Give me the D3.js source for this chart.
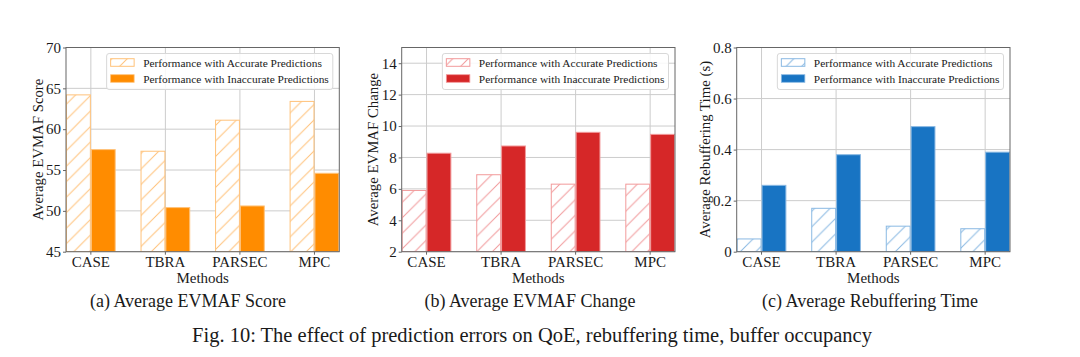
<!DOCTYPE html>
<html>
<head>
<meta charset="utf-8">
<script src="https://cdn.jsdelivr.net/npm/d3@7"></script>
<style>
  html, body { margin: 0; padding: 0; background: #fff; }
  svg { display: block; }
  text { font-family: "Liberation Serif", "Times New Roman", serif; fill: #1a1a1a; }
</style>
</head>
<body>
<svg id="chart" width="1080" height="357"></svg>
<script>
// ---- Data ----
const categories = ["CASE", "TBRA", "PARSEC", "MPC"];
const seriesNames = ["Performance with Accurate Predictions", "Performance with Inaccurate Predictions"];

const evmafAccurate   = [64.2, 57.3, 61.1, 63.4];
const evmafInaccurate = [57.5, 50.4, 50.6, 54.6];
const evmafTicks      = [45, 50, 55, 60, 65, 70];

const changeAccurate   = [5.9, 6.9, 6.3, 6.3];
const changeInaccurate = [8.27, 8.73, 9.6, 9.47];
const changeTicks      = [2, 4, 6, 8, 10, 12, 14];

const rebufAccurate   = [0.05, 0.17, 0.10, 0.09];
const rebufInaccurate = [0.26, 0.38, 0.49, 0.39];
const rebufTicks      = [0, 0.2, 0.4, 0.6, 0.8];

const subCaptions = ["(a) Average EVMAF Score", "(b) Average EVMAF Change", "(c) Average Rebuffering Time"];
const figCaption = "Fig. 10: The effect of prediction errors on QoE, rebuffering time, buffer occupancy";

// ---- Panels config ----
const panels = [
  { id: "a", left: 66, acc: evmafAccurate, inacc: evmafInaccurate, domain: [45, 70], ticks: evmafTicks,
    fmt: d => String(d), ylabel: "Average EVMAF Score", ylabelX: 38.3,
    color: "#ff8c00", light: "#ffc27a", capX: 188 },
  { id: "b", left: 401.7, acc: changeAccurate, inacc: changeInaccurate, domain: [2, 15], ticks: changeTicks,
    fmt: d => String(d), ylabel: "Average EVMAF Change", ylabelX: 373.3,
    color: "#d62728", light: "#f29a9b", capX: 530 },
  { id: "c", left: 736.7, acc: rebufAccurate, inacc: rebufInaccurate, domain: [0, 0.8], ticks: rebufTicks,
    fmt: d => d === 0 ? "0" : d.toFixed(1), ylabel: "Average Rebuffering Time (s)", ylabelX: 705,
    color: "#1874c3", light: "#8ab9e3", capX: 870 }
];
const plotW = 273.3, plotTop = 47.5, plotBottom = 251.7;

const svg = d3.select("#chart");
const defs = svg.append("defs");

panels.forEach(p => {
  // hatch pattern
  const pat = defs.append("pattern")
    .attr("id", "hatch-" + p.id)
    .attr("patternUnits", "userSpaceOnUse")
    .attr("width", 15.5).attr("height", 15.5);
  pat.append("rect").attr("width", 15.5).attr("height", 15.5).attr("fill", "#fff");
  pat.append("path")
    .attr("d", "M-1,16.5 L16.5,-1 M-4,4 L4,-4 M11.5,19.5 L19.5,11.5")
    .attr("fill", "none")
    .attr("stroke", p.light).attr("stroke-width", 1);

  const clipId = "clip-" + p.id;
  defs.append("clipPath").attr("id", clipId).append("rect")
    .attr("x", p.left).attr("y", plotTop).attr("width", plotW).attr("height", plotBottom - plotTop);

  const x = d3.scaleBand().domain(categories)
    .range([p.left, p.left + plotW]).paddingInner(1 / 3).paddingOuter(0);
  const y = d3.scaleLinear().domain(p.domain).range([plotBottom, plotTop]);
  const bw = x.bandwidth() / 2;

  const g = svg.append("g");

  // grid
  g.append("g").selectAll("line.hg").data(p.ticks).join("line")
    .attr("x1", p.left).attr("x2", p.left + plotW)
    .attr("y1", d => y(d)).attr("y2", d => y(d))
    .attr("stroke", "#cccccc").attr("stroke-width", 1);
  g.append("g").selectAll("line.vg").data(categories).join("line")
    .attr("x1", d => x(d) + bw).attr("x2", d => x(d) + bw)
    .attr("y1", plotTop).attr("y2", plotBottom)
    .attr("stroke", "#cccccc").attr("stroke-width", 1);

  const bars = g.append("g").attr("clip-path", `url(#${clipId})`);
  // accurate (hatched)
  bars.selectAll("rect.acc").data(categories).join("rect")
    .attr("x", d => x(d) + 0.5)
    .attr("width", bw - 1)
    .attr("y", (d, i) => y(p.acc[i]))
    .attr("height", (d, i) => y(p.domain[0]) - y(p.acc[i]))
    .attr("fill", `url(#hatch-${p.id})`)
    .attr("stroke", p.light).attr("stroke-width", 1);
  // inaccurate (solid)
  bars.selectAll("rect.inacc").data(categories).join("rect")
    .attr("x", d => x(d) + bw + 0.5)
    .attr("width", bw - 1)
    .attr("y", (d, i) => y(p.inacc[i]))
    .attr("height", (d, i) => y(p.domain[0]) - y(p.inacc[i]))
    .attr("fill", p.color)
    .attr("stroke", p.light).attr("stroke-width", 1);

  // axes
  const yAxis = d3.axisLeft(y).tickValues(p.ticks).tickFormat(p.fmt).tickSize(3).tickPadding(2);
  const ya = g.append("g").attr("transform", `translate(${p.left},0)`).call(yAxis);
  const xAxis = d3.axisBottom(x).tickSize(3).tickPadding(2);
  const xa = g.append("g").attr("transform", `translate(0,${plotBottom})`).call(xAxis);
  [ya, xa].forEach(a => {
    a.select(".domain").remove();
    a.selectAll(".tick line").attr("stroke", "#666");
    a.selectAll(".tick text").attr("font-size", 15)
      .attr("font-family", "Liberation Serif, serif").attr("fill", "#1a1a1a");
  });
  xa.selectAll(".tick text").attr("dy", "0.72em");

  // frame
  g.append("rect").attr("x", p.left).attr("y", plotTop)
    .attr("width", plotW).attr("height", plotBottom - plotTop)
    .attr("fill", "none").attr("stroke", "#666").attr("stroke-width", 1);

  // axis labels
  g.append("text").attr("x", p.left + plotW / 2).attr("y", 283)
    .attr("text-anchor", "middle").attr("font-size", 15).text("Methods");
  g.append("text")
    .attr("transform", `translate(${p.ylabelX},${(plotTop + plotBottom) / 2}) rotate(-90)`)
    .attr("text-anchor", "middle").attr("dominant-baseline", "central")
    .attr("font-size", 14.8).text(p.ylabel);

  // legend
  const lg = g.append("g");
  const t1 = lg.append("text").attr("font-size", 11.4).attr("dominant-baseline", "central").text(seriesNames[0]);
  const t2 = lg.append("text").attr("font-size", 11.4).attr("dominant-baseline", "central").text(seriesNames[1]);
  const tw = Math.max(t1.node().getComputedTextLength(), t2.node().getComputedTextLength());
  const boxRight = p.left + plotW - 6.5;
  const boxW = 4 + 23.5 + 9 + tw + 4;
  const boxL = boxRight - boxW;
  const boxT = plotTop + 6, boxH = 36;
  lg.insert("rect", "text").attr("x", boxL).attr("y", boxT).attr("width", boxW).attr("height", boxH)
    .attr("rx", 2.5).attr("fill", "#fff").attr("fill-opacity", 0.85)
    .attr("stroke", "#d8d8d8").attr("stroke-width", 1);
  const rows = [boxT + 9, boxT + 25];
  lg.insert("rect", "text").attr("x", boxL + 4).attr("y", rows[0] - 3.8).attr("width", 23.5).attr("height", 7.6)
    .attr("fill", `url(#hatch-${p.id})`).attr("stroke", p.light).attr("stroke-width", 1);
  lg.insert("rect", "text").attr("x", boxL + 4).attr("y", rows[1] - 3.8).attr("width", 23.5).attr("height", 7.6)
    .attr("fill", p.color).attr("stroke", p.light).attr("stroke-width", 0.8);
  t1.attr("x", boxL + 4 + 23.5 + 9).attr("y", rows[0]);
  t2.attr("x", boxL + 4 + 23.5 + 9).attr("y", rows[1]);
});

// sub captions
svg.selectAll("text.sub").data(subCaptions).join("text")
  .attr("class", "sub")
  .attr("x", (d, i) => panels[i].capX).attr("y", 306.7)
  .attr("text-anchor", "middle").attr("font-size", 18).text(d => d);

svg.append("text").attr("x", 532).attr("y", 341.7)
  .attr("text-anchor", "middle").attr("font-size", 20.5).text(figCaption);
</script>
</body>
</html>
